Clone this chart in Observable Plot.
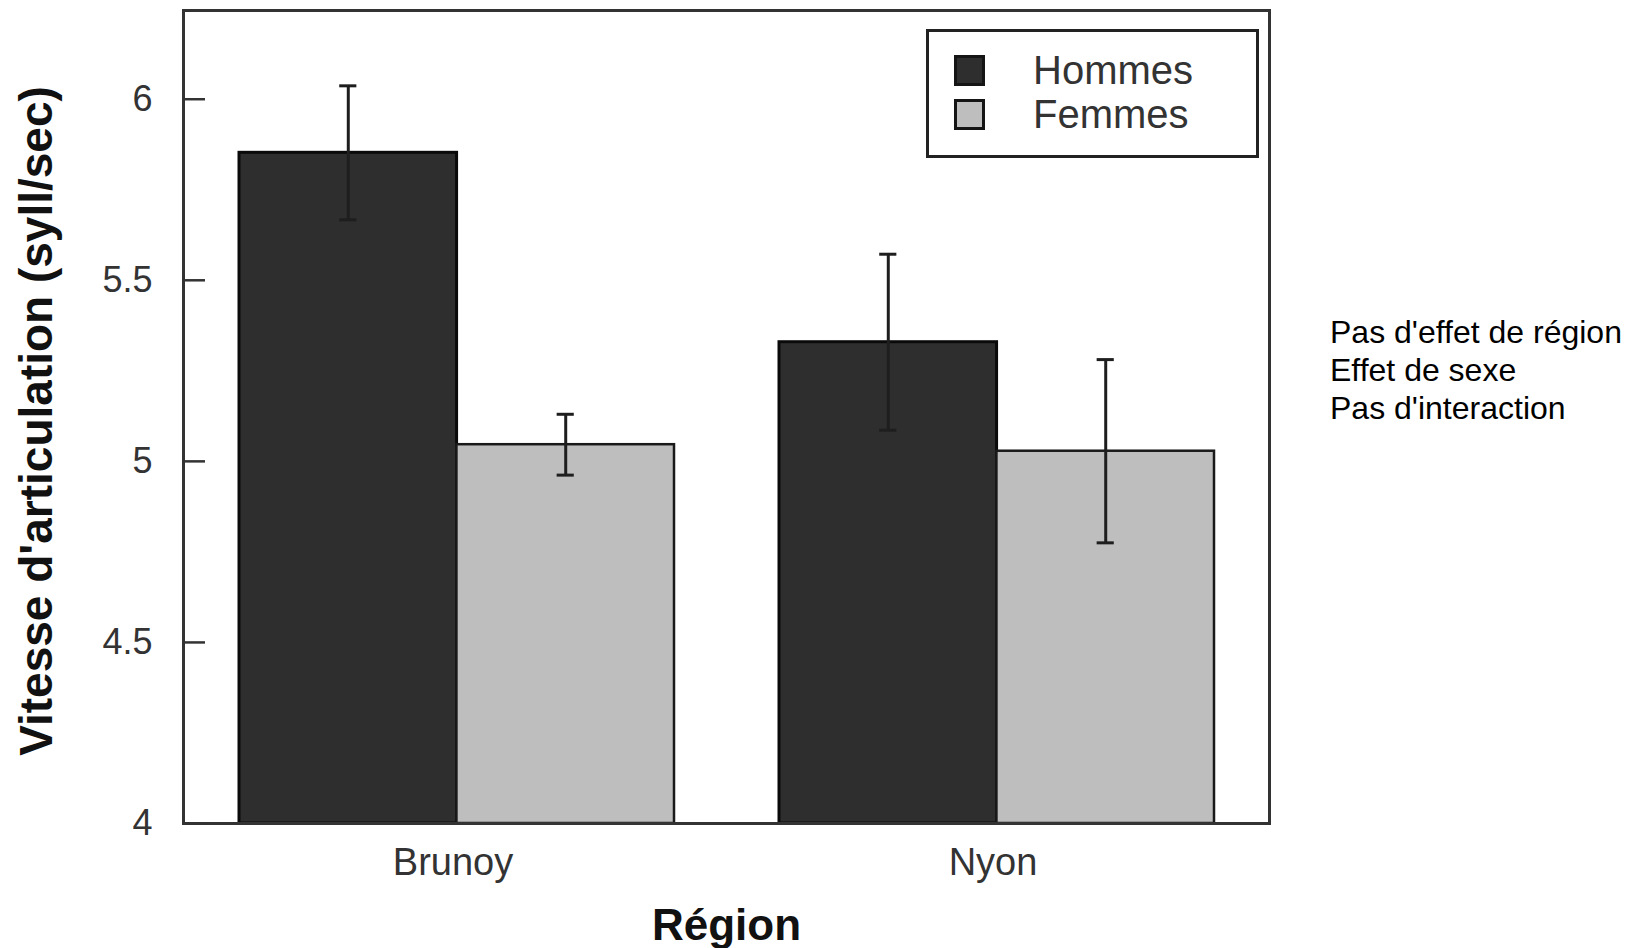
<!DOCTYPE html>
<html><head><meta charset="utf-8">
<script src="https://cdn.jsdelivr.net/npm/d3@7"></script>
<script src="https://cdn.jsdelivr.net/npm/@observablehq/plot@0.6"></script>
<style>
html,body{margin:0;padding:0;background:#fff;}
#wrap{position:relative;width:1640px;height:948px;overflow:hidden;}
#wrap svg{position:absolute;left:0;top:0;}
.legend{position:absolute;left:926px;top:29px;width:333px;height:129px;box-sizing:border-box;border:3px solid #222;background:#fff;font-family:"Liberation Sans",Arial,sans-serif;}
.row{position:absolute;left:25px;height:31px;display:flex;align-items:center;}
.sw{width:31px;height:31px;box-sizing:border-box;border:3px solid #151515;}
.lab{margin-left:48px;font-size:40px;color:#333;line-height:31px;}
.note{position:absolute;left:1330px;top:313px;font-family:"Liberation Sans",Arial,sans-serif;font-size:32px;line-height:38px;color:#000;}
</style>
</head><body>
<div id="wrap"></div>
<script>
const regions = ["Brunoy", "Nyon"];
const sexes = ["Hommes", "Femmes"];
const hommes = [5.852, 5.329];
const femmes = [5.046, 5.028];
const hommesErr = [0.185, 0.243];
const femmesErr = [0.084, 0.253];
const yTicks = [4, 4.5, 5, 5.5, 6];
const yLabel = "Vitesse d'articulation (syll/sec)";
const xLabel = "Région";
const notes = ["Pas d'effet de région", "Effet de sexe", "Pas d'interaction"];
const colors = ["#2e2e2e", "#bebebe"];

const W = 1640, H = 948;
const mL = 183, mR = 371, mT = 10, mB = 125;
const pIn = 0.195, pOut = 0.1027;
const frameW = W - mL - mR;
const step = frameW / (regions.length - pIn + 2 * pOut);
const band = step * (1 - pIn);
const capW = 17;

const hData = regions.map((r, i) => ({region: r, value: hommes[i], lo: hommes[i] - hommesErr[i], hi: hommes[i] + hommesErr[i]}));
const fData = regions.map((r, i) => ({region: r, value: femmes[i], lo: femmes[i] - femmesErr[i], hi: femmes[i] + femmesErr[i]}));

const errMarks = (data, dx) => [
  Plot.ruleX(data, {x: "region", y1: "lo", y2: "hi", dx, stroke: "#1e1e1e", strokeWidth: 3}),
  Plot.tickY(data, {x: "region", y: "hi", dx, insetLeft: (band - capW) / 2, insetRight: (band - capW) / 2, stroke: "#1e1e1e", strokeWidth: 3}),
  Plot.tickY(data, {x: "region", y: "lo", dx, insetLeft: (band - capW) / 2, insetRight: (band - capW) / 2, stroke: "#1e1e1e", strokeWidth: 3})
];

const chart = Plot.plot({
  width: W, height: H,
  marginLeft: mL, marginRight: mR, marginTop: mT, marginBottom: mB,
  x: {domain: regions, paddingInner: pIn, paddingOuter: pOut, label: null, axis: null},
  y: {domain: [4, 6.245], label: null, axis: null},
  style: {fontFamily: "Liberation Sans, Arial, sans-serif", background: "white", color: "#333"},
  marks: [
    Plot.barY(hData, {x: "region", y1: 4, y2: "value", insetRight: band / 2, fill: colors[0], stroke: "#0a0a0a", strokeWidth: 3}),
    Plot.barY(fData, {x: "region", y1: 4, y2: "value", insetLeft: band / 2, fill: colors[1], stroke: "#1a1a1a", strokeWidth: 2.5}),
    ...errMarks(hData, -band / 4),
    ...errMarks(fData, band / 4),
    Plot.frame({stroke: "#333", strokeWidth: 3}),
    Plot.tickY(yTicks, {y: d => d, insetRight: frameW - 22, stroke: "#333", strokeWidth: 2.5}),
    Plot.axisY({ticks: yTicks, tickFormat: d => `${d}`, tickSize: 0, tickPadding: 31, fontSize: 36, fill: "#333", label: null}),
    Plot.axisX({tickSize: 0, tickPadding: 25, dx: -4, fontSize: 38, fill: "#333", label: null}),
    Plot.text([yLabel], {text: d => d, frameAnchor: "left", textAnchor: "middle", lineAnchor: "middle", rotate: -90, dx: -146, dy: 4, fontSize: 46, fontWeight: "bold", fill: "#111"}),
    Plot.text([xLabel], {text: d => d, frameAnchor: "bottom", textAnchor: "middle", lineAnchor: "middle", dy: 102, fontSize: 44, fontWeight: "bold", fill: "#111"})
  ]
});

const wrap = document.getElementById("wrap");
wrap.appendChild(chart);

const legend = document.createElement("div");
legend.className = "legend";
sexes.forEach((s, i) => {
  const row = document.createElement("div");
  row.className = "row";
  row.style.top = (23 + 44 * i) + "px";
  const sw = document.createElement("div");
  sw.className = "sw";
  sw.style.background = colors[i];
  const lab = document.createElement("span");
  lab.className = "lab";
  lab.textContent = s;
  row.appendChild(sw); row.appendChild(lab);
  legend.appendChild(row);
});
wrap.appendChild(legend);

const note = document.createElement("div");
note.className = "note";
note.innerHTML = notes.map(n => `<div>${n}</div>`).join("");
wrap.appendChild(note);
</script>
</body></html>
